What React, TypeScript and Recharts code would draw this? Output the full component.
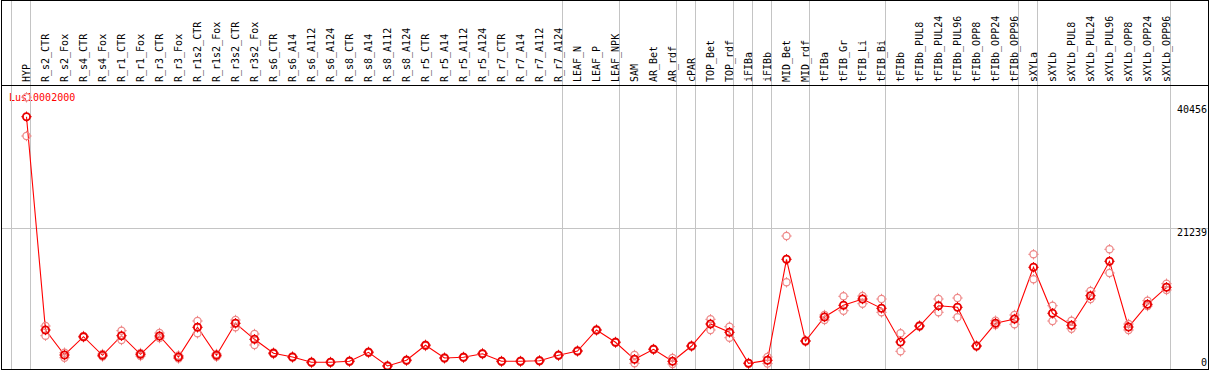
import React from 'react';
import { ComposedChart, Line, XAxis, YAxis, ReferenceLine, Customized } from 'recharts';

const title = 'Lus10002000';

const categories = [
  'HYP',
  'R_s2_CTR', 'R_s2_Fox', 'R_s4_CTR', 'R_s4_Fox', 'R_r1_CTR', 'R_r1_Fox', 'R_r3_CTR', 'R_r3_Fox',
  'R_r1s2_CTR', 'R_r1s2_Fox', 'R_r3s2_CTR', 'R_r3s2_Fox', 'R_s6_CTR', 'R_s6_A14', 'R_s6_A112', 'R_s6_A124',
  'R_s8_CTR', 'R_s8_A14', 'R_s8_A112', 'R_s8_A124', 'R_r5_CTR', 'R_r5_A14', 'R_r5_A112', 'R_r5_A124',
  'R_r7_CTR', 'R_r7_A14', 'R_r7_A112', 'R_r7_A124',
  'LEAF_N', 'LEAF_P', 'LEAF_NPK',
  'SAM', 'AR_Bet', 'AR_rdf',
  'cPAR',
  'TOP_Bet', 'TOP_rdf',
  'iFIBa',
  'iFIBb',
  'MID_Bet', 'MID_rdf',
  'tFIBa', 'tFIB_Gr', 'tFIB_Li', 'tFIB_Bi',
  'tFIBb', 'tFIBb_PUL8', 'tFIBb_PUL24', 'tFIBb_PUL96', 'tFIBb_OPP8', 'tFIBb_OPP24', 'tFIBb_OPP96',
  'sXYLa',
  'sXYLb', 'sXYLb_PUL8', 'sXYLb_PUL24', 'sXYLb_PUL96', 'sXYLb_OPP8', 'sXYLb_OPP24', 'sXYLb_OPP96',
];

// number of consecutive categories in each sample group
const groupSizes = [1, 28, 3, 3, 1, 2, 1, 1, 2, 4, 7, 1, 7];

const meanValues = [
  38082,
  5887, 2113, 4875, 2068, 5026, 2219, 4981, 1811,
  6294, 2068, 6898, 4483, 2370, 1811, 1011, 1011,
  1162, 2521, 453, 1313, 3577, 1660, 1766, 2309,
  1162, 1162, 1253, 2068,
  2717, 5887, 4030,
  1464, 2973, 1162,
  3472,
  6792, 5539,
  860,
  1313,
  16558, 4226,
  7849, 9615, 10566, 9162,
  4075, 6490, 9554, 9313, 3472, 6898, 7547,
  15351,
  8407, 6596, 11064, 16256, 6339, 9766, 12332,
];

const rep1Values = [
  41010,
  6490, 2460, 4981, 2264, 5781, 2415, 5434, 2038,
  7245, 2264, 7396, 5283, 2490, 1900, 1100, 1080,
  1240, 2620, 520, 1390, 3680, 1740, 1850, 2400,
  1230, 1240, 1330, 2150,
  2800, 5980, 4110,
  2113, 3050, 1660,
  3560,
  7502, 6385,
  930,
  1811,
  20075, 4300,
  8151, 10973, 11019, 10566,
  5389, 6580, 10566, 10717, 3550, 7290, 8151,
  17313,
  9554, 7290, 11773, 18067, 6792, 10309, 12875,
];

const rep2Values = [
  35169,
  5026, 1706, 4785, 1887, 4377, 1962, 4679, 1585,
  5389, 1857, 6294, 3623, 2264, 1720, 920, 950,
  1090, 2420, 390, 1240, 3470, 1580, 1690, 2220,
  1090, 1080, 1170, 1990,
  2630, 5800, 3950,
  860, 2900, 755,
  3390,
  5887, 4724,
  790,
  815,
  13086, 4150,
  7396, 8800, 9856, 8558,
  2672, 6400, 8558, 7804, 3390, 6641, 6747,
  13539,
  7245, 6083, 10566, 14490, 5887, 9509, 11924,
];

const yTicks = [0, 21239, 40456];
const gridValue = 21239;

const data = categories.map((name, i) => ({
  idx: i,
  name,
  mean: meanValues[i],
  r1: rep1Values[i],
  r2: rep2Values[i],
}));

// ---- layout ----
const W = 1209;
const H = 370;
const HEADER_H = 85;
const PLOT_LEFT = 1;
const PLOT_RIGHT = 1208;
const PITCH = 19;
const FIRST_X = 26.5;
const X_MIN = -(FIRST_X - PLOT_LEFT) / PITCH;
const X_MAX = X_MIN + (PLOT_RIGHT - PLOT_LEFT) / PITCH;
const Y_MAX = 42868;
const SEP_OFF = 4 / PITCH;

const separators: number[] = (() => {
  const out = [-1 + SEP_OFF];
  let acc = 0;
  groupSizes.forEach((g) => {
    acc += g;
    out.push(acc - 1 + SEP_OFF);
  });
  return out;
})();

const FONT = '"DejaVu Sans Mono", "Liberation Mono", monospace';
const GRID = '#c4c4c4';

const XTick = (props: any) => {
  const { x, payload } = props;
  const i = payload.value as number;
  const ty = 82;
  return (
    <g>
      {i === 0 &&
        separators.map((s) => {
          const sx = x + (s - i) * PITCH;
          return (
            <line key={'h' + s} x1={sx} x2={sx} y1={0} y2={HEADER_H} stroke={GRID} strokeWidth={1} shapeRendering="crispEdges" />
          );
        })}
      <text
        x={x}
        y={ty}
        dy={3.5}
        transform={`rotate(-90 ${x} ${ty})`}
        textAnchor="start"
        fontFamily={FONT}
        fontSize={10}
        fill="#000"
      >
        {categories[i]}
      </text>
    </g>
  );
};

const YTick = (props: any) => {
  const { y, payload } = props;
  const v = payload.value as number;
  const dy = v === 0 ? -3.5 : v === yTicks[yTicks.length - 1] ? 12 : 7.5;
  return (
    <text x={1207} y={y + dy} textAnchor="end" fontFamily={FONT} fontSize={10} fill="#000">
      {v}
    </text>
  );
};

const Marker = ({ cx, cy, color, sw }: { cx: number; cy: number; color: string; sw: number }) => {
  const r = 3.6;
  const t = 1.6;
  return (
    <g>
      <circle cx={cx} cy={cy} r={r} fill="none" stroke={color} strokeWidth={sw} />
      <line x1={cx} x2={cx} y1={cy - r - t} y2={cy - r + 0.5} stroke={color} strokeWidth={1} />
      <line x1={cx} x2={cx} y1={cy + r - 0.5} y2={cy + r + t} stroke={color} strokeWidth={1} />
      <line x1={cx - r - t} x2={cx - r + 0.5} y1={cy} y2={cy} stroke={color} strokeWidth={1} />
      <line x1={cx + r - 0.5} x2={cx + r + t} y1={cy} y2={cy} stroke={color} strokeWidth={1} />
    </g>
  );
};

const meanDot = (p: any) => (
  <Marker key={'m' + p.index} cx={p.cx} cy={p.cy} color="#e80000" sw={1.8} />
);
const repDot = (p: any) => (
  <Marker key={'r' + p.dataKey + p.index} cx={p.cx} cy={p.cy} color="#ee8888" sw={1.2} />
);

export default function App() {
  return (
    <div style={{ position: 'absolute', left: 0, top: 0, width: W, height: H, background: '#fff' }}>
      <ComposedChart
        width={W}
        height={H}
        data={data}
        margin={{ top: 0, right: 0, bottom: H - 369, left: PLOT_LEFT }}
      >
        <XAxis
          dataKey="idx"
          type="number"
          orientation="top"
          height={HEADER_H}
          domain={[X_MIN, X_MAX]}
          allowDataOverflow
          ticks={categories.map((_, i) => i)}
          interval={0}
          tickLine={false}
          axisLine={{ stroke: '#000', strokeWidth: 1, shapeRendering: 'crispEdges' }}
          tick={<XTick />}
        />
        <YAxis
          type="number"
          orientation="right"
          width={W - PLOT_RIGHT}
          domain={[0, Y_MAX]}
          allowDataOverflow
          ticks={yTicks}
          interval={0}
          tickLine={false}
          axisLine={false}
          tick={<YTick />}
        />
        <ReferenceLine y={gridValue} stroke={GRID} strokeWidth={1} shapeRendering="crispEdges" />
        {separators.map((s) => (
          <ReferenceLine key={'v' + s} x={s} stroke={GRID} strokeWidth={1} shapeRendering="crispEdges" ifOverflow="visible" />
        ))}
        <Line
          dataKey="r1"
          stroke="none"
          dot={repDot}
          activeDot={false}
          isAnimationActive={false}
          legendType="none"
        />
        <Line
          dataKey="r2"
          stroke="none"
          dot={repDot}
          activeDot={false}
          isAnimationActive={false}
          legendType="none"
        />
        <Line
          dataKey="mean"
          stroke="#ff0000"
          strokeWidth={1.1}
          dot={meanDot}
          activeDot={false}
          isAnimationActive={false}
        />
        <Customized
          component={() => (
            <text x={9} y={100.5} fontFamily={FONT} fontSize={10} fill="#ff0000">
              {title}
            </text>
          )}
        />
      </ComposedChart>
      <div
        style={{
          position: 'absolute',
          left: PLOT_LEFT,
          top: 0,
          width: PLOT_RIGHT - PLOT_LEFT + 1,
          height: H,
          boxSizing: 'border-box',
          border: '1px solid #000',
          pointerEvents: 'none',
        }}
      />
    </div>
  );
}
